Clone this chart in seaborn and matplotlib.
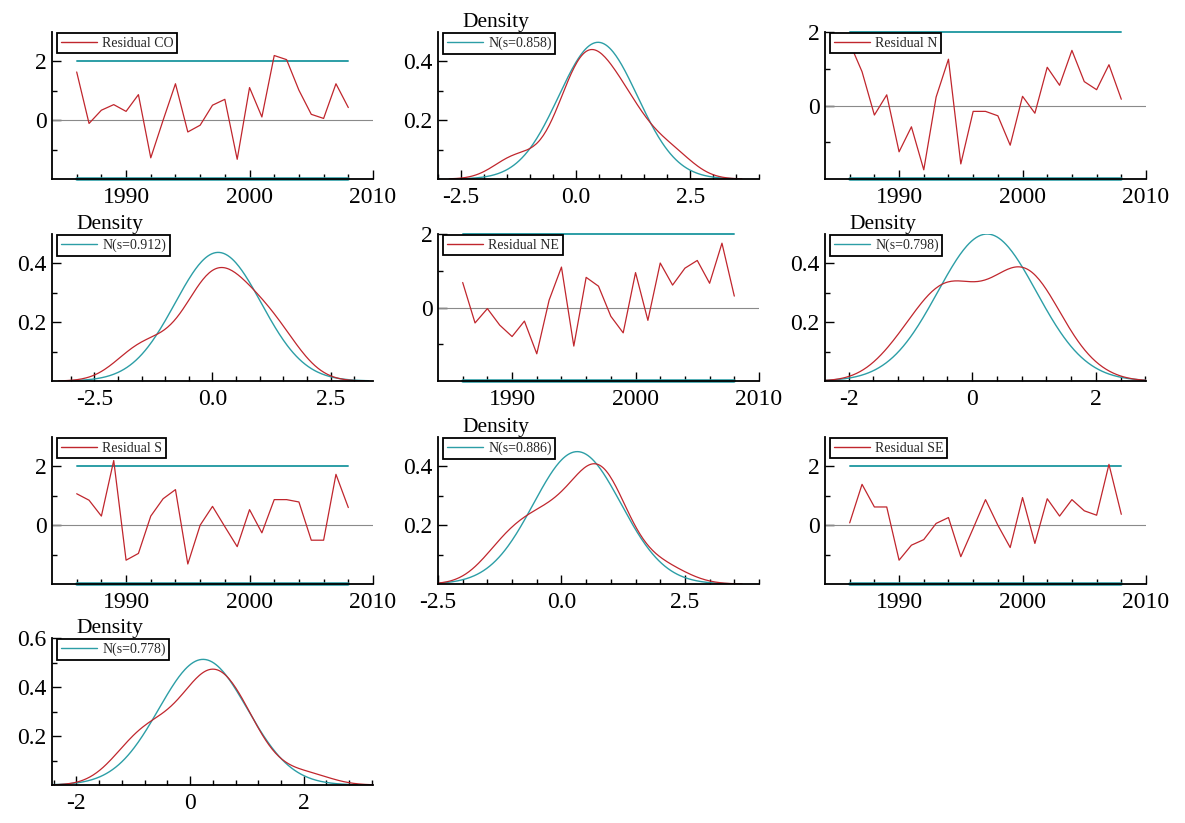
import numpy as np
import pandas as pd
import matplotlib
matplotlib.use("Agg")
import matplotlib.pyplot as plt
from matplotlib.lines import Line2D
from matplotlib.ticker import FixedLocator, FormatStrFormatter
import seaborn as sns

# ---------------- data ----------------
years = list(range(1986, 2009))

res_CO = [1.64, -0.11, 0.34, 0.53, 0.30, 0.87, -1.28, 0.00, 1.24, -0.40, -0.17, 0.51,
          0.71, -1.33, 1.11, 0.11, 2.20, 2.06, 1.02, 0.20, 0.06, 1.24, 0.43]
res_N = [1.70, 0.92, -0.26, 0.29, -1.26, -0.58, -1.75, 0.23, 1.26, -1.59, -0.16, -0.16,
         -0.28, -1.08, 0.25, -0.21, 1.04, 0.55, 1.50, 0.65, 0.43, 1.11, 0.17]
res_NE = [0.68, -0.42, -0.03, -0.48, -0.79, -0.37, -1.26, 0.20, 1.10, -1.05, 0.82, 0.58,
          -0.24, -0.69, 0.95, -0.35, 1.21, 0.61, 1.07, 1.28, 0.66, 1.75, 0.31]
res_S = [1.07, 0.85, 0.31, 2.20, -1.19, -0.96, 0.31, 0.90, 1.21, -1.32, 0.00, 0.64,
         -0.05, -0.73, 0.53, -0.26, 0.87, 0.87, 0.79, -0.51, -0.51, 1.73, 0.60]
res_SE = [0.08, 1.39, 0.62, 0.62, -1.19, -0.68, -0.49, 0.06, 0.26, -1.07, -0.11, 0.87,
          0.00, -0.76, 0.94, -0.62, 0.90, 0.31, 0.87, 0.49, 0.34, 2.07, 0.37]

regions = ["CO", "N", "NE", "S", "SE"]
residuals = [res_CO, res_N, res_NE, res_S, res_SE]
s_values = [0.858, 0.912, 0.798, 0.886, 0.778]
band = [-2, 2]

# ---------------- style ----------------
sns.set_theme(style="white")
plt.rcParams['font.family'] = ['Liberation Serif', 'DejaVu Serif']
plt.rcParams['axes.unicode_minus'] = False

RED = "#c0262d"
TEAL = "#2c9ea6"
GRAY = "#8a8a8a"

W, H = 1185, 823
fig = plt.figure(figsize=(W / 100, H / 100), dpi=100)
fig.patch.set_facecolor("white")

lefts_px = [52, 438, 825]
tops_px = [32, 234, 437, 638]
aw, ah = 321, 147


def make_ax(i):
    r, c = divmod(i, 3)
    l = lefts_px[c]
    t = tops_px[r]
    return fig.add_axes([l / W, 1 - (t + ah) / H, aw / W, ah / H])


def style_axes(ax, xlim, ylim, xmaj, xmin, ymaj, ymin, xfmt, yfmt):
    ax.set_xlim(*xlim)
    ax.set_ylim(*ylim)
    ax.set_facecolor("white")
    for s in ["top", "right"]:
        ax.spines[s].set_visible(False)
    for s in ["left", "bottom"]:
        ax.spines[s].set_color("black")
        ax.spines[s].set_linewidth(1.3)
        ax.spines[s].set_zorder(5)
    ax.xaxis.set_major_locator(FixedLocator(xmaj))
    ax.xaxis.set_minor_locator(FixedLocator(xmin))
    ax.yaxis.set_major_locator(FixedLocator(ymaj))
    ax.yaxis.set_minor_locator(FixedLocator(ymin))
    ax.xaxis.set_major_formatter(FormatStrFormatter(xfmt))
    ax.yaxis.set_major_formatter(FormatStrFormatter(yfmt))
    ax.tick_params(which="both", direction="in", color="black", bottom=True, left=True)
    ax.tick_params(which="major", length=6.5, width=1.0, labelsize=17, colors="black")
    ax.tick_params(axis="x", which="major", pad=6)
    ax.tick_params(axis="y", which="major", pad=4)
    ax.tick_params(which="minor", length=3.5, width=1.0)
    ax.set_xlabel("")
    ax.set_ylabel("")


def add_legend(ax, color, label):
    h = Line2D([0], [0], color=color, lw=1.0)
    leg = ax.legend(handles=[h], labels=[label], loc="upper left",
                    bbox_to_anchor=(0.012, 1.0), frameon=True, fancybox=False,
                    framealpha=1, edgecolor="black", fontsize=10,
                    handlelength=2.6, handletextpad=0.4, borderpad=0.25,
                    borderaxespad=0.1)
    leg.get_frame().set_linewidth(1.3)
    leg.set_zorder(10)


def draw_residual(ax, name, vals, ylim):
    df = pd.DataFrame({"Year": years, "Residual": vals})
    ax.axhline(0, color=GRAY, lw=0.8, zorder=1)
    bdf = pd.DataFrame({"Year": [years[0], years[-1]],
                        "lo": [band[0], band[0]], "hi": [band[1], band[1]]})
    sns.lineplot(data=bdf, x="Year", y="hi", color=TEAL, lw=1.4, ax=ax, zorder=2)
    ax.lines[-1].set_clip_on(False)
    sns.lineplot(data=bdf, x="Year", y="lo", color=TEAL, lw=2.6, ax=ax, zorder=2)
    ax.lines[-1].set_clip_on(False)
    sns.lineplot(data=df, x="Year", y="Residual", color=RED, lw=0.9, ax=ax, zorder=3)
    ax.lines[-1].set_clip_on(False)
    style_axes(ax, (1984, 2010), ylim, [1990, 2000, 2010],
               [y for y in range(1986, 2010, 2) if y not in (1990, 2000)],
               [0, 2], [-1, 1], "%d", "%d")
    add_legend(ax, RED, "Residual " + name)


def draw_density(ax, vals, s, xlim, ylim, xmaj, xmin, xfmt):
    vals = np.asarray(vals)
    mu = vals.mean()
    sns.kdeplot(x=vals, color=RED, lw=0.9, ax=ax, cut=3, zorder=3)
    xs = np.linspace(mu - 3.5 * s, mu + 3.5 * s, 300)
    pdf = np.exp(-0.5 * ((xs - mu) / s) ** 2) / (s * np.sqrt(2 * np.pi))
    sns.lineplot(x=xs, y=pdf, color=TEAL, lw=1.0, ax=ax, zorder=2)
    ymaj = [0.2, 0.4] if ylim[1] < 0.55 else [0.2, 0.4, 0.6]
    ymin = [0.1, 0.3] if ylim[1] < 0.55 else [0.1, 0.3, 0.5]
    style_axes(ax, xlim, ylim, xmaj, xmin, ymaj, ymin, xfmt, "%.1f")
    add_legend(ax, TEAL, "N(s=%.3f)" % s)
    ax.text(0.075, 1.035, "Density", transform=ax.transAxes, fontsize=15.5,
            ha="left", va="baseline", color="black")


res_ylims = [(-2, 3), (-2, 2), (-2, 2), (-2, 3), (-2, 3)]
dens_xlims = [(-3.0, 4.0), (-3.4, 3.4), (-2.38, 2.81), (-2.5, 4.0), (-2.43, 3.22)]
dens_ylims = [(0, 0.5), (0, 0.5), (0, 0.5), (0, 0.5), (0, 0.6)]
ticks25 = ([-2.5, 0.0, 2.5], "%.1f")
ticks2 = ([-2, 0, 2], "%d")
dens_ticks = [ticks25, ticks25, ticks2, ticks25, ticks2]

for k in range(5):
    ax_r = make_ax(2 * k)
    draw_residual(ax_r, regions[k], residuals[k], res_ylims[k])
    ax_d = make_ax(2 * k + 1)
    maj, fmt = dens_ticks[k]
    step = 0.5 if fmt == "%.1f" else 0.4
    lo, hi = dens_xlims[k]
    mins = [round(v, 2) for v in np.arange(np.ceil(lo / step) * step, hi + 1e-9, step)
            if all(abs(v - m) > 1e-6 for m in maj)]
    draw_density(ax_d, residuals[k], s_values[k], dens_xlims[k], dens_ylims[k],
                 maj, mins, fmt)

fig.savefig("out.png", dpi=100, facecolor="white")
